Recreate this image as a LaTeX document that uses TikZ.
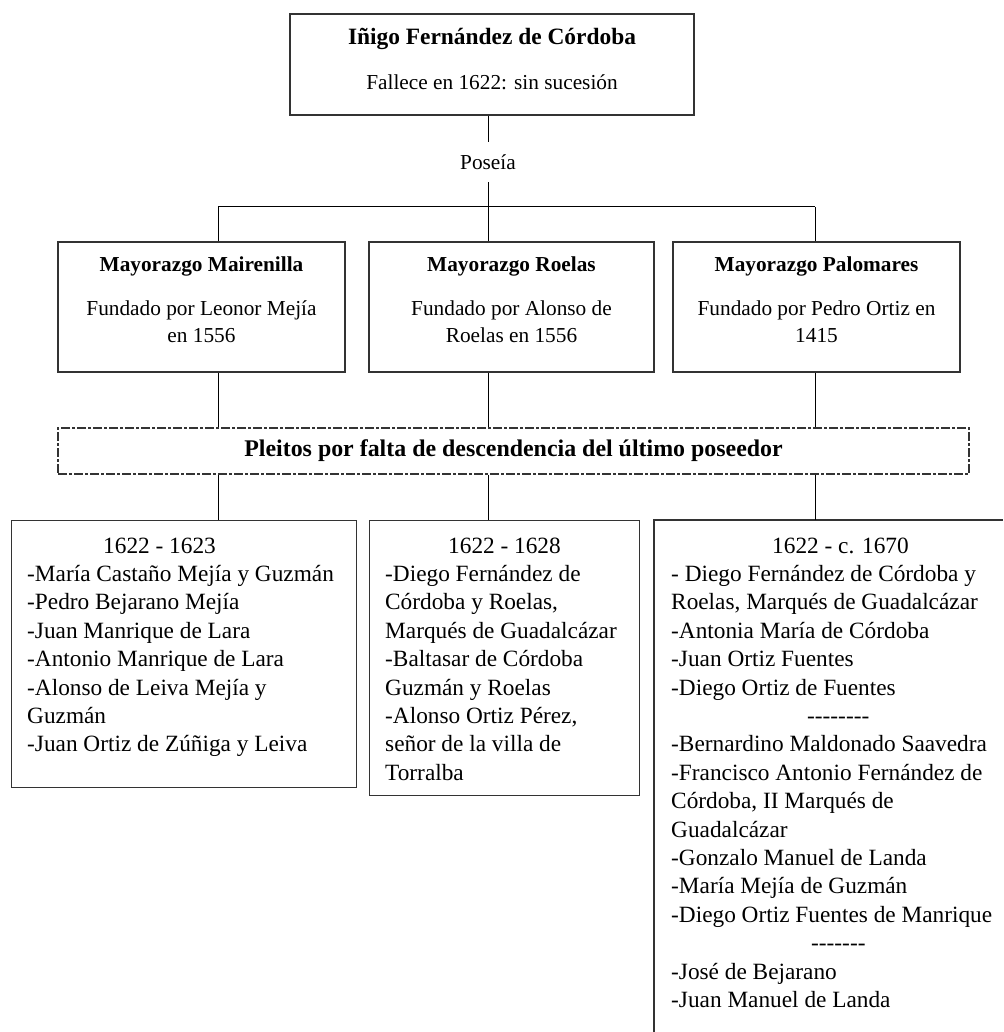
\documentclass[tikz,border=0pt]{standalone}
\usepackage{fontspec}
\setmainfont{Liberation Serif}
\usetikzlibrary{positioning}
\newcommand{\headfont}{\fontsize{23.4}{28}\selectfont\bfseries}
\newcommand{\boxfont}{\fontsize{21.3}{27}\selectfont}
\newcommand{\listfont}{\fontsize{23.3}{28.4}\selectfont}
\newcommand{\hyphenrow}[1]{\foreach \k in {1,...,#1}{\mbox{-}}}
\newcommand{\lift}[1]{\rule[-#1]{0pt}{#1}}

\begin{document}
\begin{tikzpicture}[x=1pt, y=-1pt,
    frame/.style={draw=black!80, line width=1.3pt, inner sep=0pt},
    link/.style={draw=black, line width=1pt},
    listing/.style={anchor=north west, inner sep=0pt, align=left, font=\listfont}]
    \useasboundingbox (0,0) rectangle (1003,1032);

    % Top box
    \node[frame, minimum width=404pt, minimum height=101pt, align=center, font=\boxfont] (inigo) at (492,64.5)
        {{\headfont Iñigo Fernández de Córdoba}\\[18pt]Fallece en 1622: sin sucesión\lift{12pt}};
    \node[font=\boxfont, minimum height=40pt, inner sep=0pt] (poseia) at (488,162) {Poseía};
    \coordinate (forkL) at (218,207);
    \coordinate (fork) at (488,207);
    \coordinate (forkR) at (815,207);

    % Mayorazgos
    \node[frame, minimum width=287pt, minimum height=130pt, align=center, font=\boxfont] (mairenilla) at (201.5,307)
        {{\bfseries Mayorazgo Mairenilla}\\[17pt]Fundado por Leonor Mejía\\en 1556\lift{15pt}};
    \node[frame, minimum width=285pt, minimum height=130pt, align=center, font=\boxfont] (roelas) at (511.5,307)
        {{\bfseries Mayorazgo Roelas}\\[17pt]Fundado por Alonso de\\Roelas en 1556\lift{15pt}};
    \node[frame, minimum width=287pt, minimum height=130pt, align=center, font=\boxfont] (palomares) at (816.5,307)
        {{\bfseries Mayorazgo Palomares}\\[17pt]Fundado por Pedro Ortiz en\\1415\lift{15pt}};

    % Pleitos
    \node[frame, line width=1.5pt, dash pattern=on 9pt off 2pt on 3pt off 2pt, minimum width=911pt, minimum height=46pt,
        font=\fontsize{23.9}{28}\selectfont\bfseries] (pleitos) at (513.5,451)
        {Pleitos por falta de descendencia del último poseedor};

    % Poseedores
    \node[frame, minimum width=345pt, minimum height=267pt, anchor=north west] (list1) at (11,520) {};
    \node[listing] (names1) at (27,533) {\strut\hspace*{76pt}1622 - 1623\\
        -María Castaño Mejía y Guzmán\\
        -Pedro Bejarano Mejía\\
        -Juan Manrique de Lara\\
        -Antonio Manrique de Lara\\
        -Alonso de Leiva Mejía y\\
        Guzmán\\
        -Juan Ortiz de Zúñiga y Leiva};
    \node[frame, minimum width=270pt, minimum height=275pt, anchor=north west] (list2) at (369,520) {};
    \node[listing] (names2) at (385,533) {\strut\hspace*{63pt}1622 - 1628\\
        -Diego Fernández de\\
        Córdoba y Roelas,\\
        Marqués de Guadalcázar\\
        -Baltasar de Córdoba\\
        Guzmán y Roelas\\
        -Alonso Ortiz Pérez,\\
        señor de la villa de\\
        Torralba};
    \coordinate (list3) at (654,520);
    \coordinate (list3foot) at (654,1032);
    \coordinate (list3edge) at (1003,520);
    \draw[frame] (list3foot) -- (list3) -- (list3edge);
    \node[listing] (names3) at (671,533) {\strut\hspace*{101pt}1622 - c. 1670\\
        - Diego Fernández de Córdoba y\\
        Roelas, Marqués de Guadalcázar\\
        -Antonia María de Córdoba\\
        -Juan Ortiz Fuentes\\
        -Diego Ortiz de Fuentes\\
        \hspace*{136pt}\hyphenrow{8}\\
        -Bernardino Maldonado Saavedra\\
        -Francisco Antonio Fernández de\\
        Córdoba, II Marqués de\\
        Guadalcázar\\
        -Gonzalo Manuel de Landa\\
        -María Mejía de Guzmán\\
        -Diego Ortiz Fuentes de Manrique\\
        \hspace*{140pt}\hyphenrow{7}\\
        -José de Bejarano\\
        -Juan Manuel de Landa};

    % Connectors
    \draw[link] (poseia |- inigo.south) -- (poseia.north);
    \draw[link] (poseia.south) -- (fork);
    \draw[link] (forkL) -- (forkR);
    \draw[link] (forkL) -- (forkL |- mairenilla.north);
    \draw[link] (fork) -- (fork |- roelas.north);
    \draw[link] (forkR) -- (forkR |- palomares.north);
    \foreach \tap/\m/\l in {forkL/mairenilla/list1.north, fork/roelas/list2.north, forkR/palomares/list3} {
        \draw[link] (\tap |- \m.south) -- (\tap |- pleitos.north);
        \draw[link] (\tap |- pleitos.south) -- (\tap |- \l);
    }
\end{tikzpicture}
\end{document}
